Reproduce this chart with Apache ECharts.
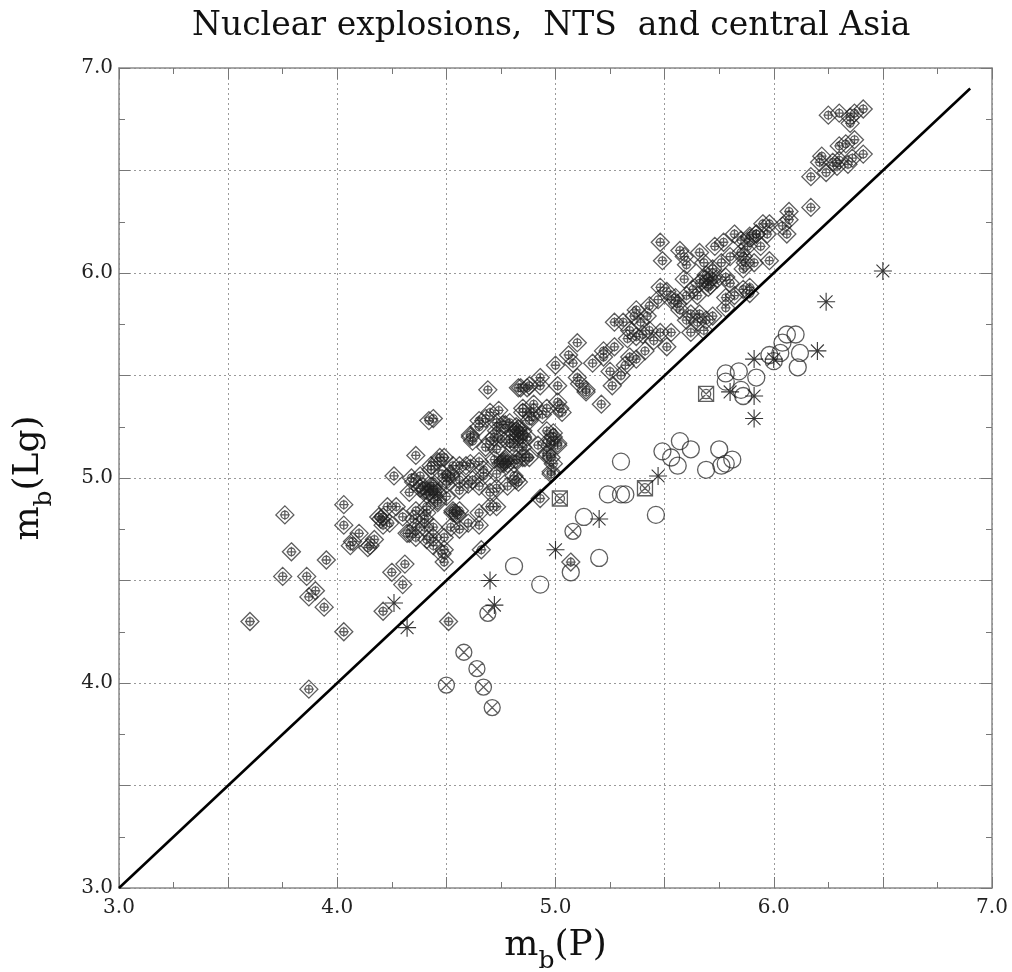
<!DOCTYPE html>
<html>
<head>
<meta charset="utf-8">
<script src="https://cdn.jsdelivr.net/npm/echarts@6/dist/echarts.min.js"></script>
<style>html,body{margin:0;padding:0;background:#fff;}#c{width:1012px;height:972px;}</style>
</head>
<body>
<div id="c"></div>
<script>
const titleText = 'Nuclear explosions,  NTS  and central Asia';
const xTicks = [3.0, 4.0, 5.0, 6.0, 7.0];
const yTicks = [3.0, 4.0, 5.0, 6.0, 7.0];
const refLine = [[3.0, 3.0], [6.9, 6.9]];

const diamonds = [
[3.60,4.30],[3.76,4.82],[3.79,4.64],[3.75,4.52],[3.86,4.52],[3.90,4.45],[3.87,4.42],[3.94,4.37],[3.95,4.60],[3.87,3.97],
[4.03,4.25],[4.03,4.87],[4.03,4.77],[4.07,4.69],[4.06,4.67],[4.10,4.73],[4.14,4.66],[4.17,4.70],[4.20,4.80],[4.23,4.86],
[4.27,4.86],[4.30,4.81],[4.21,4.77],[4.25,4.54],[4.30,4.48],[4.21,4.35],[4.31,4.58],[4.33,4.73],[4.36,4.76],[4.40,4.80],
[4.44,4.71],[4.36,4.84],[4.41,4.92],[4.46,4.88],[4.50,4.91],[4.49,4.65],[4.49,4.59],[4.51,4.30],[4.39,4.96],[4.44,4.96],
[4.42,5.28],[4.36,5.11],[4.26,5.01],[4.34,5.00],[4.43,5.06],[4.38,4.95],[4.41,4.83],[4.43,4.96],[4.46,4.93],[4.15,4.67],
[4.19,4.81],[4.41,4.70],[4.44,4.76],
[4.69,5.43],[4.84,5.44],[4.88,5.45],[4.93,5.45],[5.01,5.45],[5.14,5.43],[5.11,5.46],[5.26,5.45],[5.21,5.36],[5.02,5.34],
[5.03,5.32],[4.96,5.34],[4.90,5.36],[4.85,5.32],[4.89,5.30],[4.70,5.32],[4.65,5.28],[4.73,5.27],[4.76,5.26],[4.79,5.27],
[4.82,5.23],[4.85,5.23],[4.83,5.20],[4.87,5.20],[4.79,5.19],[4.75,5.19],[4.72,5.20],[4.61,5.21],[4.62,5.18],[4.68,5.15],
[4.73,5.14],[4.81,5.15],[4.85,5.15],[4.96,5.23],[4.99,5.22],[4.98,5.18],[5.01,5.17],[4.96,5.12],[4.98,5.10],[4.98,5.03],
[4.88,5.10],[4.85,5.10],[4.82,5.09],[4.76,5.08],[4.72,5.09],[4.65,5.08],[4.59,5.06],[4.53,5.06],[4.49,5.10],[4.46,5.08],
[4.43,5.04],[4.48,5.02],[4.52,5.01],[4.56,4.99],[4.62,4.99],[4.67,5.01],[4.73,5.02],[4.76,5.07],[4.77,5.08],[4.81,5.01],
[4.82,4.99],[4.78,4.96],[4.73,4.95],[4.70,4.93],[4.65,4.96],[4.60,4.97],[4.56,4.94],[4.50,4.97],[4.38,5.01],[4.35,4.98],
[4.33,4.93],[4.40,4.94],[4.44,4.92],[4.41,4.86],[4.46,4.89],[4.53,4.83],[4.54,4.83],[4.56,4.84],[4.60,4.78],[4.65,4.83],
[4.70,4.86],[4.73,4.86],[4.65,4.77],[4.56,4.75],[4.52,4.76],[4.49,4.71],[4.44,4.67],[4.48,4.63],[4.32,4.73],[4.36,4.71],
[4.40,4.76],[4.35,4.80],[4.24,4.78],[4.21,4.81],[4.66,4.65],[5.07,4.59],[4.93,4.90],
[5.10,5.66],[5.06,5.60],[5.08,5.56],[5.00,5.55],[4.93,5.49],[4.87,5.44],[4.83,5.44],[5.10,5.49],[5.14,5.42],[5.17,5.56],
[5.22,5.59],[5.01,5.37],[4.74,5.33],[4.68,5.29],[4.85,5.34],[4.90,5.32],[4.94,5.31],[4.88,5.28],[4.82,5.25],[4.77,5.26],
[4.73,5.23],[4.65,5.25],[4.61,5.20],[4.70,5.18],[4.79,5.17],[4.85,5.19],[4.99,5.20],[4.96,5.17],[5.01,5.16],[4.96,5.11],
[4.99,5.07],[4.98,5.02],[4.83,4.98],[4.86,5.10],[4.81,5.07],[4.75,5.07],[4.67,5.04],[4.61,5.07],[4.56,5.06],[4.52,5.02],
[4.47,5.10],[4.44,5.29],
[4.77,5.09],[4.78,5.07],[4.55,4.82],[4.53,4.84],[4.81,5.22],[4.83,5.24],[4.84,5.21],[4.44,4.95],[4.42,4.93],[4.92,5.16],
[4.50,5.00],
[5.48,6.15],[5.49,6.06],[5.57,6.11],[5.59,6.08],[5.60,6.04],[5.59,5.97],[5.66,6.10],[5.68,6.05],[5.73,6.13],[5.77,6.15],
[5.82,6.19],[5.85,6.16],[5.89,6.18],[5.92,6.19],[5.85,6.10],[5.87,6.05],[5.80,6.08],[5.76,6.05],[5.72,6.02],[5.69,5.99],
[5.74,5.97],[5.78,5.98],[5.80,5.95],[5.70,5.93],[5.66,5.95],[5.63,5.92],[5.65,5.89],[5.60,5.89],[5.56,5.85],[5.53,5.87],
[5.51,5.91],[5.48,5.93],[5.47,5.87],[5.57,5.82],[5.62,5.80],[5.66,5.80],[5.60,5.77],[5.65,5.76],[5.69,5.77],[5.72,5.79],
[5.78,5.83],[5.78,5.88],[5.82,5.89],[5.86,5.92],[5.89,5.93],[5.43,5.84],[5.42,5.79],[5.39,5.76],[5.34,5.72],[5.31,5.76],
[5.27,5.76],[5.36,5.79],[5.37,5.82],[5.43,5.72],[5.48,5.71],[5.53,5.71],[5.45,5.67],[5.51,5.64],[5.40,5.70],[5.37,5.69],
[5.33,5.68],[5.62,5.71],[5.68,5.72],[5.22,5.62],[5.27,5.64],[5.34,5.59],[5.25,5.52],[5.32,5.55],[5.37,5.58],[5.30,5.50],
[5.41,5.62],[5.70,5.96],[5.71,5.94],[5.68,5.97],[5.72,5.98],[5.55,5.88],
[6.25,6.77],[6.30,6.78],[6.35,6.76],[6.41,6.80],[6.37,6.78],[6.35,6.73],[6.37,6.65],[6.33,6.63],[6.30,6.62],[6.41,6.58],
[6.36,6.56],[6.34,6.53],[6.30,6.55],[6.29,6.52],[6.27,6.54],[6.22,6.57],[6.21,6.54],[6.24,6.49],[6.17,6.47],[6.17,6.32],
[6.07,6.30],[6.07,6.26],[6.04,6.23],[6.06,6.19],[5.98,6.24],[5.95,6.24],[5.97,6.19],[5.92,6.19],[5.89,6.17],[5.94,6.13],
[5.88,6.13],[5.86,6.08],[5.98,6.06],[5.91,6.05],[5.86,6.02],[5.89,5.90]
];

const circles = [
[4.93,4.48],[4.81,4.57],[5.07,4.54],[5.13,4.81],[5.20,4.61],[5.24,4.92],[5.30,4.92],[5.32,4.92],[5.30,5.08],[5.46,4.82],
[5.49,5.13],[5.57,5.18],[5.62,5.14],[5.56,5.06],[5.53,5.10],[5.69,5.04],[5.75,5.14],[5.78,5.07],[5.81,5.09],[5.76,5.06],
[5.78,5.51],[5.78,5.47],[5.84,5.52],[5.92,5.49],[5.85,5.43],[5.86,5.40],[5.98,5.60],[6.03,5.61],[6.06,5.70],[6.10,5.70],
[6.04,5.66],[6.12,5.61],[6.11,5.54],[6.00,5.57]
];

const crossedCircles = [[4.69,4.34],[4.58,4.15],[4.64,4.07],[4.50,3.99],[4.67,3.98],[4.71,3.88],[5.08,4.74]];
const crossedSquares = [[5.02,4.90],[5.41,4.95],[5.69,5.41]];
const asterisks = [
[6.50,6.01],[6.24,5.86],[4.26,4.39],[4.32,4.27],[4.70,4.50],[4.72,4.38],[5.00,4.65],[5.20,4.80],[5.47,5.01],[5.80,5.42],
[5.91,5.40],[5.91,5.29],[5.91,5.58],[6.00,5.58],[6.20,5.62]
];

const SERIF = '"DejaVu Serif", "Liberation Serif", serif';
const diamondSym = 'path://M0,-9L9,0L0,9L-9,0Z M3.8,0A3.8,3.8,0,1,1,-3.8,0A3.8,3.8,0,1,1,3.8,0 M-5,0L5,0 M0,-5L0,5';
const circleSym = 'path://M8,0A8,8,0,1,1,-8,0A8,8,0,1,1,8,0';
const xCircleSym = 'path://M8,0A8,8,0,1,1,-8,0A8,8,0,1,1,8,0 M-5.7,-5.7L5.7,5.7 M-5.7,5.7L5.7,-5.7';
const xSquareSym = 'path://M-7,-7L7,-7L7,7L-7,7Z M-7,-7L7,7 M7,-7L-7,7 M4.3,0A4.3,4.3,0,1,1,-4.3,0A4.3,4.3,0,1,1,4.3,0';
const starSym = 'path://M-8,0L8,0 M0,-8L0,8 M-5.7,-5.7L5.7,5.7 M-5.7,5.7L5.7,-5.7';

function scat(name, data, sym, size, stroke, w) {
  return {
    name, type: 'scatter', data, symbol: sym, symbolSize: size, symbolKeepAspect: true,
    itemStyle: { color: 'rgba(0,0,0,0)', borderColor: stroke, borderWidth: w, opacity: 1 },
    emphasis: { disabled: true }, silent: true, xAxisIndex: 0, yAxisIndex: 0
  };
}

const axisCommon = {
  type: 'value', min: 3, max: 7, interval: 0.5,
  axisLine: { show: true, lineStyle: { color: '#8a8a8a', width: 1.5 } },
  axisTick: { show: true, inside: true, length: 11, lineStyle: { color: '#777', width: 1 } },
  minorTick: { show: true, splitNumber: 2, length: 6, lineStyle: { color: '#777', width: 1 } },
};
const fmtX = v => xTicks.some(t => Math.abs(t - v) < 1e-9) ? v.toFixed(1) : '';
const fmtY = v => yTicks.some(t => Math.abs(t - v) < 1e-9) ? v.toFixed(1) : '';
const nameRich = {
  m: { fontFamily: SERIF, fontSize: 36, color: '#111', verticalAlign: 'top', lineHeight: 46 },
  s: { fontFamily: SERIF, fontSize: 25, color: '#111', verticalAlign: 'bottom', lineHeight: 46, padding: [16, 0, 0, 0] }
};

const chart = echarts.init(document.getElementById('c'), null, { renderer: 'canvas' });
chart.setOption({
  animation: false,
  backgroundColor: '#fff',
  title: {
    text: titleText, left: 187, top: 5,
    textStyle: { fontFamily: SERIF, fontSize: 33, fontWeight: 'normal', color: '#111' }
  },
  grid: { left: 119, right: 20, top: 68, bottom: 84, containLabel: false, outerBoundsMode: 'none' },
  xAxis: [
    Object.assign({}, axisCommon, {
      position: 'bottom',
      axisLabel: { formatter: fmtX, fontFamily: SERIF, fontSize: 20, color: '#222', margin: 10 },
      splitLine: { show: true, lineStyle: { color: '#9a9a9a', type: [2, 3], width: 1 } },
      name: '{m|m}{s|b}{m|(P)}', nameLocation: 'middle', nameGap: 40,
      nameTextStyle: { rich: nameRich }
    }),
    Object.assign({}, axisCommon, { position: 'top', axisLabel: { show: false }, splitLine: { show: false } })
  ],
  yAxis: [
    Object.assign({}, axisCommon, {
      position: 'left',
      axisLabel: { formatter: fmtY, fontFamily: SERIF, fontSize: 20, color: '#222', margin: 6 },
      splitLine: { show: true, lineStyle: { color: '#9a9a9a', type: [2, 3], width: 1 } },
      name: '{m|m}{s|b}{m|(Lg)}', nameLocation: 'middle', nameGap: 62, nameRotate: 90,
      nameTextStyle: { rich: nameRich }
    }),
    Object.assign({}, axisCommon, { position: 'right', axisLabel: { show: false }, splitLine: { show: false } })
  ],
  series: [
    scat('diamond', diamonds, diamondSym, 18, 'rgba(30,30,30,0.72)', 1.3),
    scat('circle', circles, circleSym, 17, 'rgba(40,40,40,0.75)', 1.3),
    scat('xcircle', crossedCircles, xCircleSym, 16, 'rgba(40,40,40,0.75)', 1.3),
    scat('xsquare', crossedSquares, xSquareSym, 15, 'rgba(40,40,40,0.75)', 1.3),
    scat('asterisk', asterisks, starSym, 18, 'rgba(20,20,20,0.85)', 1.1),
    {
      name: 'line', type: 'line', data: refLine, symbol: 'none', silent: true,
      lineStyle: { color: '#000', width: 2.6 }, z: 3
    }
  ]
});
</script>
</body>
</html>
